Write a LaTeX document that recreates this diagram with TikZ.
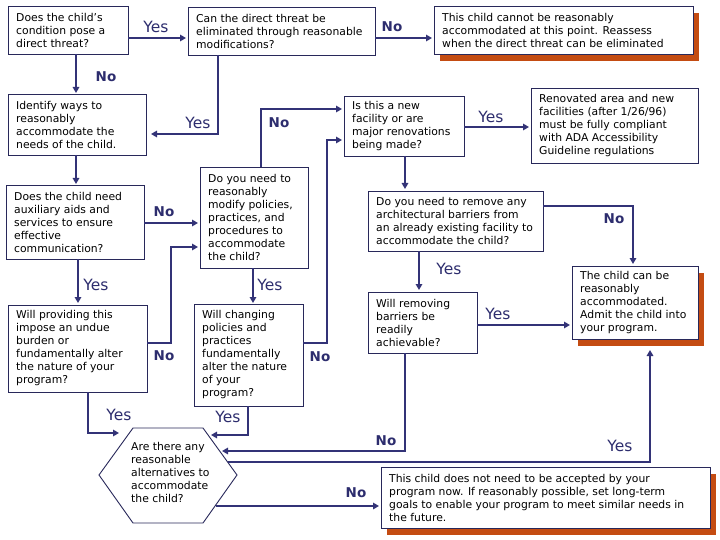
\documentclass[tikz,border=0pt]{standalone}
\usepackage{fontspec}
\setmainfont{DejaVu Sans}
\usetikzlibrary{arrows.meta,calc}
\definecolor{navy}{RGB}{51,51,119}
\definecolor{boxline}{RGB}{40,40,90}
\definecolor{labc}{RGB}{45,45,110}
\definecolor{shadowc}{RGB}{196,76,18}
\newcommand\bx[6]{%
  \node[boxst, minimum width={#4-#2}, minimum height={#5-#3}] (#1) at ({(#2+#4)/2},{(#3+#5)/2}) {};
  \node[txt, anchor=west] (#1t) at ([xshift=8pt]#1.west) {#6};}
\newcommand\shbx[6]{%
  \fill[shadowc] ({#2+6},{#3+7}) rectangle ({#4+6},{#5+7});
  \bx{#1}{#2}{#3}{#4}{#5}{#6}}
\begin{document}
\begin{tikzpicture}[x=1pt,y=-1pt,
  boxst/.style={draw=boxline, fill=white, line width=0.9pt, inner sep=0pt, outer sep=0pt},
  txt/.style={align=left, inner sep=0pt, font=\fontsize{10.8}{13}\selectfont, text=black},
  yeslab/.style={font=\fontsize{15.5}{16}\selectfont, text=labc, inner sep=0pt},
  nolab/.style={font=\fontsize{13.5}{14}\selectfont\bfseries, text=labc, inner sep=0pt},
  arr/.style={draw=navy, line width=2.5pt, -{Triangle[length=6pt,width=6.5pt]}}]
\fill[white] (0,0) rectangle (720,540);
\useasboundingbox (0,0) rectangle (720,540);

% boxes
\bx{A}{8}{6}{128}{54}{Does the child’s\\condition pose a\\direct threat?}
\bx{B}{188}{7}{375}{55}{Can the direct threat be\\eliminated through reasonable\\modifications?}
\shbx{C}{434}{6}{693}{54}{This child cannot be reasonably\\accommodated at this point. Reassess\\when the direct threat can be eliminated}
\bx{D}{8}{94}{146}{155}{Identify ways to\\reasonably\\accommodate the\\needs of the child.}
\bx{E}{6}{185}{144}{259}{Does the child need\\auxiliary aids and\\services to ensure\\effective\\communication?}
\bx{F}{200}{167}{308}{268}{Do you need to\\reasonably\\modify policies,\\practices, and\\procedures to\\accommodate\\the child?}
\bx{G}{8}{305}{147}{392}{Will providing this\\impose an undue\\burden or\\fundamentally alter\\the nature of your\\program?}
\bx{H}{194}{304}{303}{406}{Will changing\\policies and\\practices\\fundamentally\\alter the nature\\of your\\program?}
\bx{I}{344}{96}{464}{156}{Is this a new\\facility or are\\major renovations\\being made?}
\bx{J}{531}{88}{698}{163}{Renovated area and new\\facilities (after 1/26/96)\\must be fully compliant\\with ADA Accessibility\\Guideline regulations}
\bx{K}{368}{191}{543}{251}{Do you need to remove any\\architectural barriers from\\an already existing facility to\\accommodate the child?}
\shbx{L}{572}{266}{698}{339}{The child can be\\reasonably\\accommodated.\\Admit the child into\\your program.}
\bx{M}{368}{292}{477}{353}{Will removing\\barriers be\\readily\\achievable?}
\shbx{N}{381}{467}{710}{528}{This child does not need to be accepted by your\\program now. If reasonably possible, set long-term\\goals to enable your program to meet similar needs in\\the future.}

% hexagon
\coordinate (h1) at (133,428);
\coordinate (h2) at (203,428);
\coordinate (h3) at (237,475);
\coordinate (h4) at (203,523);
\coordinate (h5) at (133,523);
\coordinate (h6) at (99,475);
\draw[boxline, line width=0.9pt, fill=white] (h1)--(h2)--(h3)--(h4)--(h5)--(h6)--cycle;
\node[txt, anchor=west] (hext) at (131,472) {Are there any\\reasonable\\alternatives to\\accommodate\\the child?};
\coordinate (hin1) at (119,433);
\coordinate (hin2) at (211,435);
\coordinate (hin3) at (222,451);
\coordinate (hout1) at (228,462);
\coordinate (hout2) at (216,506);

% connectors
\draw[arr, shorten >=2pt] (A.east |- 0,38) -- (B.west |- 0,38);
\draw[arr, shorten >=2pt] (B.east |- 0,38) -- (C.west |- 0,38);
\draw[arr, shorten >=1pt] (A.south -| 76,0) -- (D.north -| 76,0);
\draw[arr, shorten >=5pt] (B.south -| 218,0) |- (D.east |- 0,134);
\draw[arr, shorten >=1pt] (D.south -| 76,0) -- (E.north -| 76,0);
\draw[arr, shorten >=2pt] (E.east |- 0,223) -- (F.west |- 0,223);
\draw[arr, shorten >=2pt] (E.south -| 78,0) -- (G.north -| 78,0);
\draw[arr, shorten >=2pt] (G.east |- 0,343) -| (171,247) -- (F.west |- 0,247);
\draw[arr, shorten >=1pt] (F.south -| 253,0) -- (H.north -| 253,0);
\draw[arr, shorten >=2pt] (F.north -| 261,0) |- (I.west |- 0,109);
\draw[arr, shorten >=2pt] (H.east |- 0,343) -| (327,140) -- (I.west |- 0,140);
\draw[arr, shorten >=2pt] (I.east |- 0,127) -- (J.west |- 0,127);
\draw[arr, shorten >=2pt] (I.south -| 405,0) -- (K.north -| 405,0);
\draw[arr, shorten >=2pt] (K.east |- 0,206) -| (L.north -| 633,0);
\draw[arr, shorten >=2pt] (K.south -| 419,0) -- (M.north -| 419,0);
\draw[arr, shorten >=2pt] (M.east |- 0,325) -- (L.west |- 0,325);
\draw[arr] (M.south -| 405,0) |- (hin3);
\draw[arr, shorten >=11pt] (hout1) -| (L.south -| 650,0);
\draw[arr, shorten >=2pt] (hout2) -- (N.west |- 0,506);
\draw[arr] (G.south -| 88,0) |- (hin1);
\draw[arr] (H.south -| 248,0) |- (hin2);

% labels
\node[yeslab] (l1) at (156,27) {Yes};
\node[nolab] (l2) at (392,27) {No};
\node[nolab] (l3) at (106,77) {No};
\node[yeslab] (l4) at (198,123) {Yes};
\node[nolab] (l5) at (164,212) {No};
\node[yeslab] (l6) at (96,285) {Yes};
\node[nolab] (l7) at (164,356) {No};
\node[yeslab] (l8) at (270,285) {Yes};
\node[nolab] (l9) at (279,123) {No};
\node[nolab] (l10) at (320,357) {No};
\node[yeslab] (l11) at (491,117) {Yes};
\node[nolab] (l12) at (614,219) {No};
\node[yeslab] (l13) at (449,269) {Yes};
\node[yeslab] (l14) at (498,314) {Yes};
\node[nolab] (l15) at (386,441) {No};
\node[yeslab] (l16) at (620,446) {Yes};
\node[nolab] (l17) at (356,493) {No};
\node[yeslab] (l18) at (119,415) {Yes};
\node[yeslab] (l19) at (228,417) {Yes};
\end{tikzpicture}
\end{document}
